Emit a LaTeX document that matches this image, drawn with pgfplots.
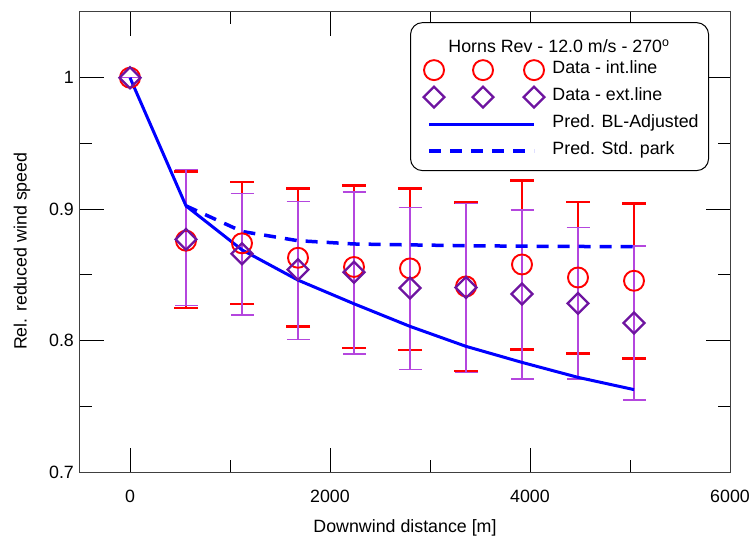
\documentclass[border=0pt]{standalone}
\usepackage{fontspec}
\setmainfont{Liberation Sans}
\usepackage{pgfplots}
\usepackage{pgfplotstable}
\pgfplotsset{compat=1.18}
\definecolor{dred}{RGB}{255,0,0}
\definecolor{pmark}{RGB}{110,20,160}
\definecolor{pbar}{RGB}{180,70,222}
\definecolor{bl}{RGB}{0,0,255}
\newcommand\lf{\fontsize{17.8}{21.4}\selectfont}
\pgfplotsset{
  mlegend/.style={legend image code/.code={\draw[##1, sharp corners] plot coordinates {(5pt,0pt) (54pt,0pt) (105pt,0pt)}; \path (-12pt,0pt);}},
  llegend/.style={legend image code/.code={\draw[##1, sharp corners] (0pt,0pt) -- (105pt,0pt);}},
}

\pgfplotstableread{
x y lo hi
560 0.876 0.8248 0.9286
1120 0.874 0.8278 0.9207
1680 0.863 0.8105 0.9157
2240 0.856 0.7944 0.9182
2800 0.8549 0.7929 0.9160
3360 0.8412 0.7769 0.9053
3920 0.8579 0.7933 0.9220
4480 0.848 0.7903 0.9055
5040 0.8455 0.7865 0.9043
}\intdata

\pgfplotstableread{
x y lo hi
0 1.000 1.000 1.000
560 0.877 0.8265 0.9300
1120 0.866 0.8195 0.9120
1680 0.854 0.8010 0.9058
2240 0.852 0.7898 0.9131
2800 0.840 0.7781 0.9012
3360 0.8404 0.7756 0.9043
3920 0.8354 0.7708 0.8995
4480 0.8283 0.7708 0.8860
5040 0.8134 0.7549 0.8721
}\extdata

\pgfplotstableread{
x y
0 1.000
560 0.9025
1120 0.869
1680 0.846
2240 0.828
2800 0.8108
3360 0.7956
3920 0.7834
4480 0.772
5040 0.7627
}\bldata

\pgfplotstableread{
x y
560 0.9025
1120 0.883
1680 0.876
2240 0.8735
2800 0.8728
3360 0.8722
3920 0.8718
4480 0.8716
5040 0.8714
}\stddata

\begin{document}
\lf
\begin{tikzpicture}
\useasboundingbox (-80pt,-67pt) rectangle (669pt,472pt);
\begin{axis}[
  at={(0pt,0pt)}, anchor=south west,
  width=650pt, height=460pt, scale only axis,
  xmin=-500, xmax=6000, ymin=0.7, ymax=1.05,
  xtick={0,2000,4000,6000}, minor xtick={1000,3000,5000},
  ytick={0.7,0.8,0.9,1}, minor ytick={0.75,0.85,0.95},
  tick align=inside,
  major tick length=24pt, minor tick length=12pt,
  axis line style={draw=black!75, line width=1pt},
  tick style={black, line width=0.9pt},
  /pgf/number format/assume math mode=true,
  /pgf/number format/1000 sep={},
  tick label style={font=\lf},
  xticklabel style={yshift=-12pt},
  label style={font=\lf},
  xlabel={Downwind distance [m]},
  ylabel={Rel. reduced wind speed},
  xlabel style={at={(axis description cs:0.5,0)}, anchor=base, yshift=-60pt},
  ylabel style={at={(axis description cs:-0.0892,0.48)}, anchor=center},
  legend cell align=left,
  legend style={at={(axis description cs:0.5077,0.978)}, anchor=north west,
    draw=black, line width=1pt, rounded corners=12pt,
    inner xsep=6pt, inner ysep=6pt, column sep=4pt, row sep=0pt, font=\lf,
    nodes={inner sep=4pt, text height=13pt, text depth=6pt}},
]
\addlegendimage{empty legend}
\addlegendentry[text height=20pt, text depth=0pt]{\hspace*{-104pt}Horns Rev - 12.0 m/s - 270\textsuperscript{o}}

\addplot[dred, only marks, mark=o, mark size=10pt, mark options={draw=dred, line width=1.9pt}, forget plot]
  coordinates {(0,1.0)};

\addplot[dred, only marks, mark=o, mark size=10pt, mark options={draw=dred, line width=1.9pt, sharp corners},
  mlegend,
  error bars/.cd, y dir=both, y explicit,
  error bar style={dred, line width=2pt, sharp corners},
  error mark options={dred, line width=2.8pt, mark size=12pt, rotate=90}]
  table[x=x, y=y, y error plus expr=\thisrow{hi}-\thisrow{y}, y error minus expr=\thisrow{y}-\thisrow{lo}] {\intdata};
\addlegendentry{Data - int.line}

\addplot[pmark, only marks, mark=square, mark size=7.4pt, mark options={draw=pmark, line width=2.3pt, rotate=45, sharp corners},
  mlegend,
  error bars/.cd, y dir=both, y explicit,
  error bar style={pbar, line width=1.3pt, sharp corners},
  error mark options={pbar, line width=1.4pt, mark size=11.5pt, rotate=90}]
  table[x=x, y=y, y error plus expr=\thisrow{hi}-\thisrow{y}, y error minus expr=\thisrow{y}-\thisrow{lo}] {\extdata};
\addlegendentry{Data - ext.line}

\addplot[bl, line width=3pt, no marks, sharp corners, llegend]
  table[x=x, y=y] {\bldata};
\addlegendentry{Pred. BL-Adjusted}

\addplot[bl, line width=3.5pt, no marks, sharp corners, dash pattern=on 12pt off 9pt, llegend]
  table[x=x, y=y] {\stddata};
\addlegendentry{Pred. Std. park}
\end{axis}
\end{tikzpicture}
\end{document}
